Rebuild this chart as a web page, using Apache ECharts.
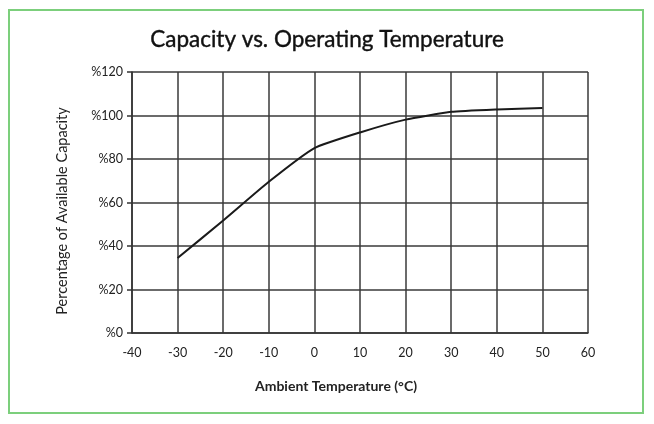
<!DOCTYPE html>
<html>
<head>
<meta charset="utf-8">
<script src="https://cdn.jsdelivr.net/npm/echarts@6/dist/echarts.min.js"></script>
<style>
html,body{margin:0;padding:0;background:#fff;}
#frame{position:absolute;left:8px;top:9px;width:636px;height:405px;border:2px solid #7ccf7c;box-sizing:border-box;}
#chart{position:absolute;left:0;top:0;width:654px;height:424px;}
</style>
</head>
<body>
<div id="frame"></div>
<div id="chart"></div>
<script>
const titleText = "Capacity vs. Operating Temperature";
const xAxisName = "Ambient Temperature (\u00B0C)";
const yAxisName = "Percentage of Available Capacity";
const temperatures = [-30, -20, -10, 0, 10, 20, 30, 40, 50];
const capacity = [34.5, 51.7, 69.5, 85.0, 92.2, 98.1, 101.7, 102.8, 103.5];
const xTicks = [-40, 60, 10];
const yTicks = [0, 120, 20];

const chart = echarts.init(document.getElementById('chart'), null, {renderer: 'canvas'});
const font = 'Lato, "Open Sans", sans-serif';
chart.setOption({
  backgroundColor: 'transparent',
  animation: false,
  title: {
    text: titleText,
    left: 'center',
    top: 23,
    textStyle: {fontFamily: font, fontSize: 22.5, fontWeight: 'normal', color: '#111', textBorderColor: '#111', textBorderWidth: 0.4}
  },
  grid: {left: 132, right: 66, top: 72, bottom: 91, containLabel: false},
  xAxis: {
    type: 'value',
    min: xTicks[0], max: xTicks[1], interval: xTicks[2],
    name: xAxisName,
    nameLocation: 'middle',
    nameGap: 46,
    nameTextStyle: {fontFamily: font, fontSize: 14, fontWeight: 'bold', color: '#222', padding: [0, 48, 0, 0]},
    axisLine: {show: true, onZero: false, lineStyle: {color: '#333', width: 1.5}},
    axisTick: {show: false},
    axisLabel: {fontFamily: font, fontSize: 12.5, color: '#222', margin: 13},
    splitLine: {show: true, lineStyle: {color: '#3a3a3a', width: 1.5}}
  },
  yAxis: {
    type: 'value',
    min: yTicks[0], max: yTicks[1], interval: yTicks[2],
    name: yAxisName,
    nameLocation: 'middle',
    nameGap: 62,
    nameTextStyle: {fontFamily: font, fontSize: 14.5, color: '#222', padding: [0, 17, 0, 0]},
    axisLine: {show: true, onZero: false, lineStyle: {color: '#333', width: 1.5}},
    axisTick: {show: true, length: 5, lineStyle: {color: '#333', width: 1.5}},
    axisLabel: {fontFamily: font, fontSize: 12.5, color: '#222', margin: 9, formatter: v => '%' + v},
    splitLine: {show: true, lineStyle: {color: '#3a3a3a', width: 1.5}}
  },
  series: [{
    type: 'line',
    data: temperatures.map((t, i) => [t, capacity[i]]),
    smooth: 0.15,
    symbol: 'none',
    lineStyle: {color: '#1a1a1a', width: 2}
  }]
});
</script>
</body>
</html>
